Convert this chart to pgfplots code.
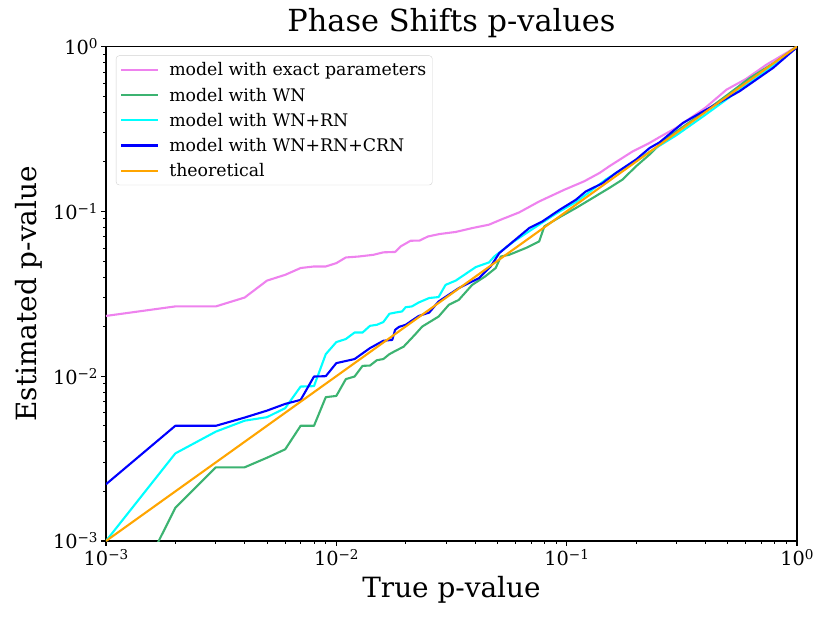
\documentclass[border=0pt]{standalone}
\usepackage{fontspec}
\setmainfont{DejaVu Serif}
\usepackage{pgfplots}
\pgfplotsset{compat=1.18}

\definecolor{mviolet}{HTML}{EE82EE}
\definecolor{mgreen}{HTML}{3CB371}
\definecolor{mcyan}{HTML}{00FFFF}
\definecolor{mblue}{HTML}{0000FF}
\definecolor{morange}{HTML}{FFA500}

% 10^k tick label in the text font
\newcommand\ep[1]{10\raisebox{6bp}{\fontsize{13.6}{15}\selectfont #1}}

\begin{document}
\begin{tikzpicture}
\begin{axis}[
	at={(0,0)}, anchor=south west,
	scale only axis, width=691bp, height=494.5bp,
	xmode=log, ymode=log,
	xmin=1e-3, xmax=1, ymin=1e-3, ymax=1,
	xtick={0.001,0.01,0.1,1},
	xticklabels={\ep{−3},\ep{−2},\ep{−1},\ep{0}},
	ytick={0.001,0.01,0.1,1},
	yticklabels={\ep{−3},\ep{−2},\ep{−1},\ep{0}},
	minor xtick={0.002,0.003,0.004,0.005,0.006,0.007,0.008,0.009,0.02,0.03,0.04,0.05,0.06,0.07,0.08,0.09,0.2,0.3,0.4,0.5,0.6,0.7,0.8,0.9},
	minor ytick={0.002,0.003,0.004,0.005,0.006,0.007,0.008,0.009,0.02,0.03,0.04,0.05,0.06,0.07,0.08,0.09,0.2,0.3,0.4,0.5,0.6,0.7,0.8,0.9},
	tick label style={font=\fontsize{19.4}{23}\selectfont},
	tick align=outside,
	xtick pos=bottom, ytick pos=left,
	major tick length=4.9bp, minor tick length=2.8bp,
	major tick style={black, line width=1.1bp},
	minor tick style={black, line width=0.8bp},
	axis line style={black, line width=1.1bp},
	title={Phase Shifts p-values},
	title style={font=\fontsize{30.5}{36}\selectfont, at={([yshift=9bp]axis description cs:0.5,1)}, anchor=base},
	xlabel={True p-value},
	xlabel style={font=\fontsize{28}{34}\selectfont, at={([yshift=-56bp]axis description cs:0.5,0)}, anchor=base},
	ylabel={Estimated p-value},
	ylabel style={font=\fontsize{28}{34}\selectfont, at={([xshift=-69bp]axis description cs:0,0.5)}, anchor=base},
	legend cell align=left,
	legend style={at={([xshift=10bp,yshift=-9bp]axis description cs:0,1)}, anchor=north west,
		font=\fontsize{17.4}{21}\selectfont, draw=black!18, rounded corners=3bp, fill=white,
		inner xsep=4bp, inner ysep=5bp, row sep=6.5bp, column sep=8bp},
	legend image code/.code={\draw[#1] (0bp,0bp) -- (37bp,0bp);},
	every axis plot/.append style={line width=2.1bp, line join=round},
	clip=true,
]
\addplot[mviolet] coordinates {
(0.001,0.0232)(0.002,0.0265)(0.003,0.0265)(0.004,0.030)(0.005,0.038)(0.006,0.0412)
(0.007,0.0453)(0.008,0.0463)(0.009,0.0463)(0.010,0.0485)(0.011,0.0525)(0.0125,0.0532)
(0.0145,0.0545)(0.016,0.0564)(0.018,0.0567)(0.019,0.0612)(0.021,0.0663)(0.023,0.0665)
(0.025,0.0704)(0.028,0.0728)(0.033,0.0750)(0.039,0.0792)(0.046,0.083)(0.0526,0.0898)
(0.0562,0.0931)(0.0622,0.0985)(0.076,0.1148)(0.0977,0.1352)(0.119,0.152)(0.139,0.171)
(0.153,0.1875)(0.1935,0.231)(0.229,0.260)(0.253,0.282)(0.3,0.322)(0.4,0.425)
(0.494,0.547)(0.6,0.635)(0.737,0.776)(0.9,0.915)(1,1)
};
\addlegendentry{model with exact parameters}
\addplot[mgreen] coordinates {
(0.001,0.00023)(0.002,0.00159)(0.003,0.0028)(0.004,0.0028)(0.005,0.0032)(0.006,0.0036)
(0.007,0.005)(0.008,0.005)(0.009,0.00746)(0.010,0.00759)(0.011,0.0096)(0.012,0.00995)
(0.013,0.01155)(0.014,0.0116)(0.015,0.0125)(0.016,0.0127)(0.017,0.0136)(0.018,0.0142)
(0.0196,0.0151)(0.0219,0.0178)(0.0236,0.020)(0.0278,0.023)(0.0308,0.0271)(0.034,0.029)
(0.0389,0.0358)(0.0443,0.0403)(0.0492,0.0453)(0.0518,0.0532)(0.0563,0.0545)(0.0665,0.0599)
(0.076,0.0657)(0.080,0.081)(0.0944,0.0931)(0.1097,0.1047)(0.1297,0.1205)(0.153,0.1385)
(0.175,0.156)(0.20,0.1875)(0.229,0.221)(0.253,0.2537)(0.289,0.295)(0.4,0.405)
(0.5,0.51)(0.62,0.64)(0.8,0.8)(1,1)
};
\addlegendentry{model with WN}
\addplot[mcyan] coordinates {
(0.001,0.001)(0.002,0.0034)(0.003,0.00461)(0.004,0.00537)(0.005,0.00564)(0.006,0.0064)
(0.007,0.00865)(0.008,0.0087)(0.009,0.0136)(0.010,0.0161)(0.011,0.0168)(0.012,0.0184)
(0.013,0.0184)(0.014,0.0202)(0.015,0.0205)(0.016,0.0213)(0.017,0.0239)(0.018,0.0243)
(0.0193,0.0247)(0.020,0.0262)(0.0213,0.0265)(0.0228,0.028)(0.0253,0.0298)(0.0278,0.0302)
(0.0298,0.0358)(0.033,0.038)(0.0403,0.0459)(0.046,0.049)(0.0485,0.0532)(0.059,0.0657)
(0.07,0.077)(0.09,0.097)(0.11,0.114)(0.148,0.156)(0.2,0.204)(0.3,0.29)
(0.4,0.385)(0.563,0.545)(0.75,0.73)(1,1)
};
\addlegendentry{model with WN+RN}
\addplot[mblue] coordinates {
(0.001,0.00221)(0.002,0.005)(0.003,0.005)(0.004,0.00561)(0.005,0.00618)(0.006,0.00679)
(0.007,0.00718)(0.008,0.00995)(0.009,0.01)(0.010,0.012)(0.012,0.0127)(0.014,0.0148)
(0.016,0.0164)(0.0175,0.0166)(0.018,0.0191)(0.0187,0.0199)(0.020,0.0205)(0.0228,0.0232)
(0.0253,0.0243)(0.0278,0.0284)(0.034,0.0342)(0.0417,0.0394)(0.0468,0.0463)(0.051,0.0558)
(0.0563,0.0627)(0.0622,0.0704)(0.0688,0.0792)(0.0785,0.0869)(0.093,0.102)(0.1097,0.1176)
(0.121,0.132)(0.143,0.148)(0.1637,0.171)(0.20,0.206)(0.229,0.242)(0.253,0.262)
(0.32,0.344)(0.404,0.414)(0.563,0.535)(0.787,0.741)(0.98,0.966)(1,1)
};
\addlegendentry{model with WN+RN+CRN}
\addplot[morange] coordinates {(0.001,0.001)(1,1)};
\addlegendentry{theoretical}
\end{axis}
\pgfresetboundingbox
\path[use as bounding box] (-106bp,-82bp) rectangle (724bp,541bp);
\end{tikzpicture}
\end{document}
